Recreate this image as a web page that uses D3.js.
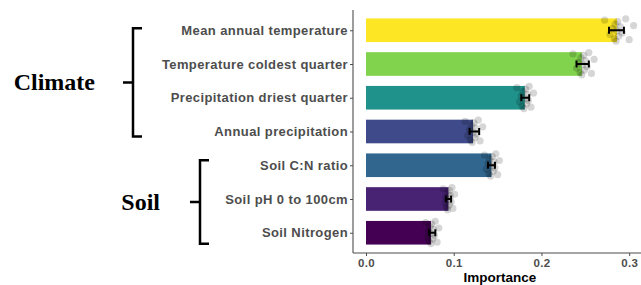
<html>
<head>
<style>
  body { margin: 0; background: #fff; font-family: "Liberation Sans", Arial, sans-serif; }
</style>
<script src="https://d3js.org/d3.v7.min.js"></script>
</head>
<body>
<div id="chart"></div>
<script>
// data
var categories = ["Mean annual temperature", "Temperature coldest quarter", "Precipitation driest quarter",
  "Annual precipitation", "Soil C:N ratio", "Soil pH 0 to 100cm", "Soil Nitrogen"];
var importance = [0.286, 0.246, 0.181, 0.122, 0.143, 0.094, 0.074];
var errLow = [0.277, 0.240, 0.177, 0.118, 0.139, 0.091, 0.072];
var errHigh = [0.294, 0.254, 0.186, 0.129, 0.147, 0.097, 0.079];
var xTicks = [0, 0.1, 0.2, 0.3];

// permutation runs (grey points)
var runs = [
  [0.272, 0.278, 0.281, 0.283, 0.284, 0.285, 0.286, 0.287, 0.288, 0.290, 0.292, 0.296, 0.300, 0.305],
  [0.236, 0.240, 0.242, 0.244, 0.245, 0.246, 0.247, 0.248, 0.249, 0.250, 0.252, 0.254, 0.257, 0.260],
  [0.172, 0.175, 0.177, 0.178, 0.179, 0.180, 0.181, 0.182, 0.183, 0.184, 0.185, 0.186, 0.188, 0.191],
  [0.113, 0.116, 0.118, 0.119, 0.120, 0.121, 0.122, 0.123, 0.124, 0.125, 0.126, 0.128, 0.130, 0.133],
  [0.135, 0.137, 0.139, 0.140, 0.141, 0.142, 0.143, 0.144, 0.145, 0.146, 0.147, 0.148, 0.150, 0.152],
  [0.088, 0.090, 0.091, 0.092, 0.093, 0.093, 0.094, 0.095, 0.095, 0.096, 0.097, 0.098, 0.099, 0.101],
  [0.068, 0.070, 0.071, 0.072, 0.073, 0.074, 0.074, 0.075, 0.076, 0.077, 0.078, 0.079, 0.081, 0.083]
];
var jitter = [-0.30, 0.12, -0.05, 0.25, -0.18, 0.32, 0.02, -0.26, 0.18, -0.10, 0.08, -0.34, 0.28, -0.14];

var groups = [
  { name: "Climate", from: 0, to: 3 },
  { name: "Soil", from: 4, to: 6 }
];

var width = 641, height = 285;
var panel = { left: 353, right: 641, top: 10, bottom: 253 };

var svg = d3.select("#chart").append("svg")
  .attr("width", width)
  .attr("height", height);

var x = d3.scaleLinear().domain([0, 0.3]).range([366, 629.2]);

// ggplot style discrete expansion of 0.6 on both ends
var y = d3.scalePoint()
  .domain(categories)
  .range([panel.top, panel.bottom])
  .padding(0.6);
var step = y.step();
var barH = step * 0.7;

var color = d3.scaleSequential(d3.interpolateViridis)
  .domain([d3.min(importance), d3.max(importance)]);

// bars
svg.selectAll("rect.bar")
  .data(categories)
  .enter()
  .append("rect")
  .attr("class", "bar")
  .attr("x", x(0))
  .attr("y", function(d) { return y(d) - barH / 2; })
  .attr("width", function(d, i) { return x(importance[i]) - x(0); })
  .attr("height", barH)
  .attr("fill", function(d, i) { return color(importance[i]); });

// jittered points
var pts = [];
runs.forEach(function(r, i) {
  r.forEach(function(v, j) {
    pts.push({ cat: categories[i], v: v, j: jitter[j] });
  });
});
svg.selectAll("circle.pt")
  .data(pts)
  .enter()
  .append("circle")
  .attr("class", "pt")
  .attr("cx", function(d) { return x(d.v); })
  .attr("cy", function(d) { return y(d.cat) + d.j * step; })
  .attr("r", 3.6)
  .attr("fill", "#000")
  .attr("fill-opacity", 0.16);

// error bars
var eb = svg.append("g")
  .attr("stroke", "#000")
  .attr("stroke-width", 2)
  .attr("fill", "none");
categories.forEach(function(c, i) {
  var cy = y(c);
  eb.append("line")
    .attr("x1", x(errLow[i])).attr("x2", x(errHigh[i]))
    .attr("y1", cy).attr("y2", cy);
  [errLow[i], errHigh[i]].forEach(function(v) {
    eb.append("line")
      .attr("x1", x(v)).attr("x2", x(v))
      .attr("y1", cy - 3.5).attr("y2", cy + 3.5);
  });
});

// axes
var axisColor = "#4d4d4d";
svg.append("line")
  .attr("x1", panel.left).attr("x2", panel.left)
  .attr("y1", panel.top).attr("y2", panel.bottom)
  .attr("stroke", axisColor).attr("stroke-width", 1.1);
svg.append("line")
  .attr("x1", panel.left).attr("x2", panel.right)
  .attr("y1", panel.bottom).attr("y2", panel.bottom)
  .attr("stroke", axisColor).attr("stroke-width", 1.1);

var yAxis = svg.append("g")
  .attr("transform", "translate(" + panel.left + ",0)")
  .call(d3.axisLeft(y).tickSize(3).tickPadding(2));
yAxis.select(".domain").remove();
yAxis.selectAll("line").attr("stroke", axisColor);
yAxis.selectAll("text")
  .attr("fill", "#4d4d4d")
  .style("font-size", "13px")
  .style("letter-spacing", "0.4px")
  .style("font-weight", "bold")
  .style("font-family", "Liberation Sans, Arial, sans-serif");

var xAxis = svg.append("g")
  .attr("transform", "translate(0," + panel.bottom + ")")
  .call(d3.axisBottom(x).tickValues(xTicks).tickFormat(d3.format(".1f")).tickSize(3).tickPadding(3));
xAxis.select(".domain").remove();
xAxis.selectAll("line").attr("stroke", axisColor);
xAxis.selectAll("text")
  .attr("fill", "#4d4d4d")
  .style("font-size", "11.5px")
  .style("letter-spacing", "0.3px")
  .style("font-weight", "bold")
  .style("font-family", "Liberation Sans, Arial, sans-serif");

svg.append("text")
  .attr("x", 500)
  .attr("y", 282)
  .attr("text-anchor", "middle")
  .style("font-size", "13.5px")
  .style("font-weight", "bold")
  .text("Importance");

// group braces
var braceX = [133, 200];
var labelX = [95, 160];
groups.forEach(function(g, i) {
  var top = y(categories[g.from]) - 2;
  var bot = y(categories[g.to]) + 5;
  if (i == 1) { top = y(categories[g.from]) - 5; bot = y(categories[g.to]) + 11; }
  var bx = braceX[i];
  var mid = (top + bot) / 2;
  svg.append("path")
    .attr("d", "M" + (bx + 9) + "," + top + "H" + bx + "V" + bot + "H" + (bx + 9) +
      "M" + bx + "," + mid + "H" + (bx - 10))
    .attr("fill", "none")
    .attr("stroke", "#000")
    .attr("stroke-width", 2.5);
  svg.append("text")
    .attr("x", labelX[i])
    .attr("y", mid + 8)
    .attr("text-anchor", "end")
    .style("font-family", "Liberation Serif, Times New Roman, serif")
    .style("font-weight", "bold")
    .style("font-size", "24px")
    .text(g.name);
});
</script>
</body>
</html>
